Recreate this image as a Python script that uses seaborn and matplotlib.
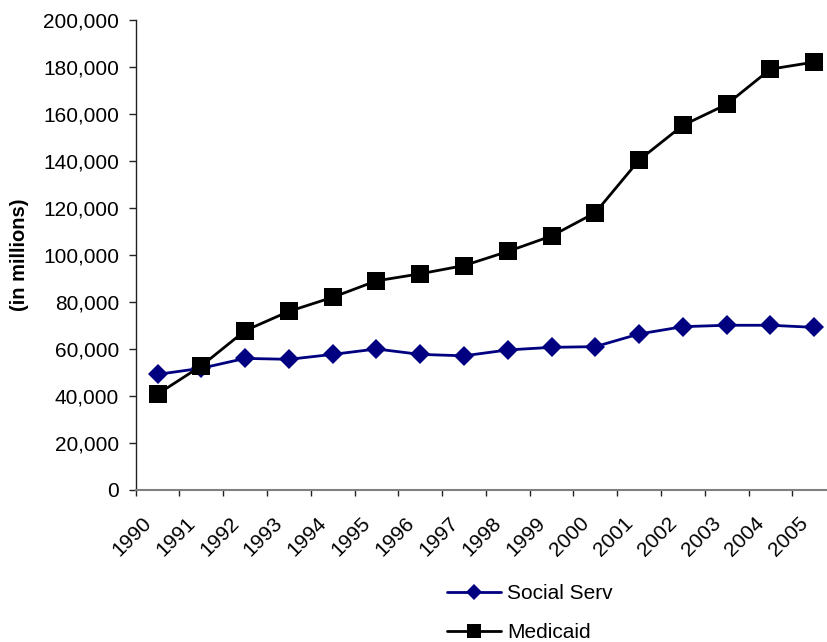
import pandas as pd
import seaborn as sns
import matplotlib.pyplot as plt
import matplotlib.ticker as mticker
import matplotlib.transforms as mtrans

years = list(range(1990, 2006))
social_serv = [49200, 51800, 56000, 55600, 57700, 60000, 57700, 57100,
               59600, 60700, 61000, 66400, 69500, 70100, 70100, 69200]
medicaid = [40800, 52800, 67800, 76000, 82000, 89000, 92000, 95500,
            101500, 108100, 118000, 140400, 155200, 164100, 179100, 182100]

df = pd.DataFrame({'year': years, 'Social Serv': social_serv, 'Medicaid': medicaid})

sns.set_style('white')
plt.rcParams['font.family'] = ['Liberation Sans', 'DejaVu Sans']
plt.rcParams['text.color'] = 'black'
plt.rcParams['axes.labelcolor'] = 'black'
plt.rcParams['xtick.color'] = 'black'
plt.rcParams['ytick.color'] = 'black'

fig = plt.figure(figsize=(8.27, 6.42), dpi=100)
ax = fig.add_axes([0.164, 0.2368, 0.847, 0.732])

sns.lineplot(data=df, x='year', y='Social Serv', ax=ax, color='#000080',
             marker='D', markersize=10, markeredgewidth=0, linewidth=2,
             label='Social Serv')
sns.lineplot(data=df, x='year', y='Medicaid', ax=ax, color='black',
             marker='s', markersize=13, markeredgewidth=0, linewidth=2,
             label='Medicaid')

ax.set_xlim(1989.5, 2005.5)
ax.set_ylim(0, 200000)
ax.yaxis.set_major_locator(mticker.MultipleLocator(20000))
ax.yaxis.set_major_formatter(mticker.FuncFormatter(lambda v, p: f'{int(v):,}'))

# labels at category centres, tick marks at boundaries
ax.set_xticks(years)
ax.set_xticklabels([str(y) for y in years])
ax.set_xticks([y - 0.5 for y in years] + [2005.5], minor=True)
ax.tick_params(axis='x', which='major', length=0, pad=22, labelsize=15)
ax.tick_params(axis='x', which='minor', length=4, width=1, color='#222222', direction='out', bottom=True)
ax.tick_params(axis='y', length=5, width=1, color='#222222', direction='out', left=True, pad=7, labelsize=15)

offset = mtrans.ScaledTranslation(-9 / 100, 0, fig.dpi_scale_trans)
for lab in ax.get_xticklabels():
    lab.set_rotation(45)
    lab.set_ha('right')
    lab.set_va('center')
    lab.set_rotation_mode('anchor')
    lab.set_transform(lab.get_transform() + offset)

ax.set_xlabel('')
ax.set_ylabel('(in millions)', fontsize=14.5, fontweight='bold', labelpad=10)

sns.despine(ax=ax)
ax.spines['left'].set_color('#222222')
ax.spines['bottom'].set_color('#808080')
ax.spines['left'].set_linewidth(1)
ax.spines['bottom'].set_linewidth(1.5)

ax.legend(loc='upper left', bbox_to_anchor=(447 / 827, 1 - 584 / 642),
          bbox_transform=fig.transFigure, frameon=False, fontsize=15,
          handlelength=2.6, handletextpad=0.3, labelspacing=0.95,
          borderpad=0, borderaxespad=0, markerscale=0.8)

fig.savefig('out.png', dpi=100)
